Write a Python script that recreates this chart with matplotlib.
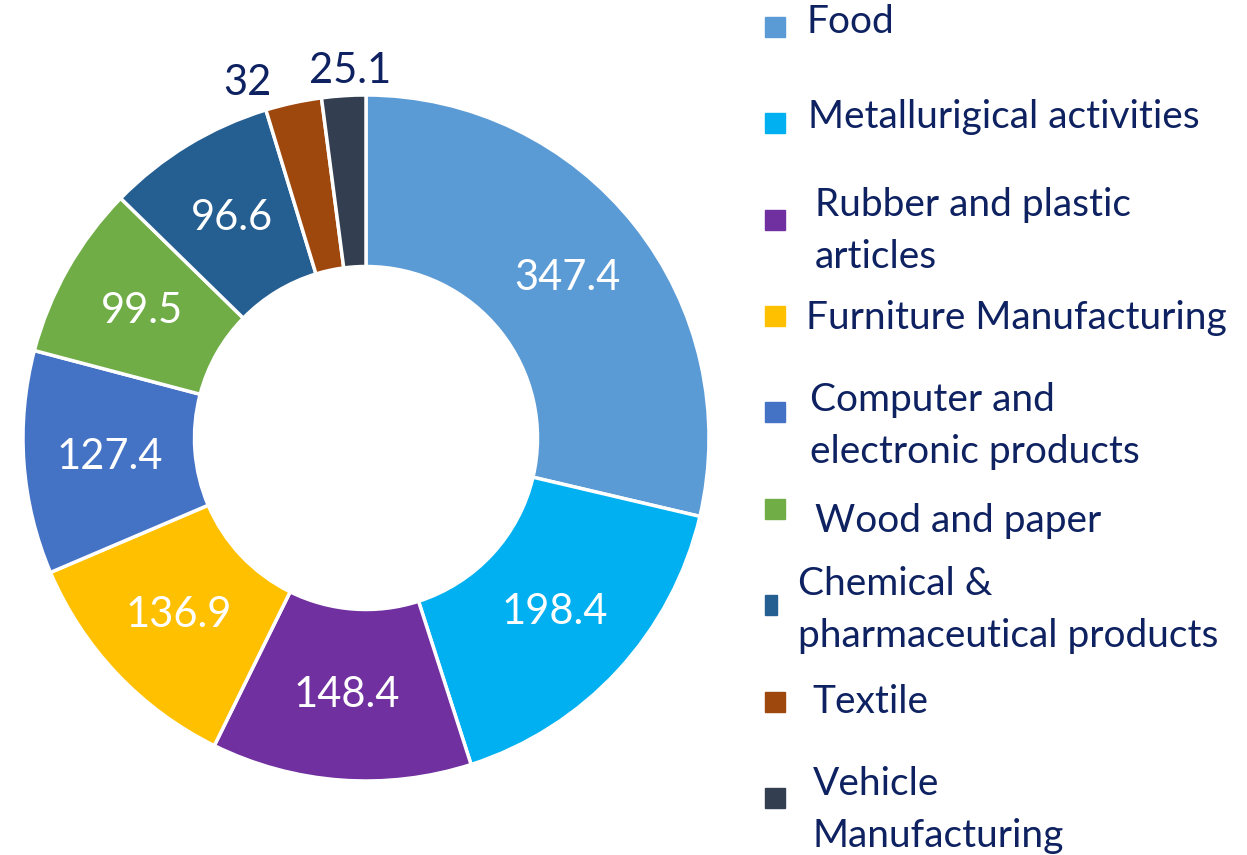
import numpy as np
import matplotlib
matplotlib.use("Agg")
import matplotlib.pyplot as plt

categories = ["Food", "Metallurigical activities", "Rubber and plastic\narticles",
              "Furniture Manufacturing", "Computer and\nelectronic products",
              "Wood and paper", "Chemical &\npharmaceutical products", "Textile",
              "Vehicle\nManufacturing"]
values = [347.4, 198.4, 148.4, 136.9, 127.4, 99.5, 96.6, 32, 25.1]
value_labels = ["347.4", "198.4", "148.4", "136.9", "127.4", "99.5", "96.6", "32", "25.1"]
colors = ["#5B9BD5", "#00B0F0", "#7030A0", "#FFC000", "#4472C4", "#70AD47",
          "#255E91", "#9E480E", "#333F50"]

TXT = "#0E2161"
FONT = "Lato"
plt.rcParams['font.family'] = [FONT, 'DejaVu Sans']

W, H = 1247, 855
fig = plt.figure(figsize=(W / 100, H / 100), dpi=100)
cx, cy, R = 366, 438, 343
ax = fig.add_axes([(cx - R) / W, (H - cy - R) / H, 2 * R / W, 2 * R / H])
wedges, _ = ax.pie(values, colors=colors, startangle=90, counterclock=False,
                   radius=1, wedgeprops=dict(width=0.5, edgecolor="white", linewidth=2.5))
ax.set_xlim(-1, 1)
ax.set_ylim(-1, 1)
ax.axis("off")

fs_num = 30
fs_leg = 28
total = sum(values)
cum = np.cumsum([0] + values[:-1])
for i, (v, lab) in enumerate(zip(values, value_labels)):
    mid = np.deg2rad(90 - (cum[i] + v / 2) / total * 360)
    if v / total > 0.05:
        r = 0.75
        ax.text(r * np.cos(mid), r * np.sin(mid), lab, ha="center", va="center",
                color="white", fontsize=fs_num)
    else:
        # outside labels, nudged as in the reference
        extra = {7: (6.3, 1.09), 8: (-1.2, 1.07)}[i]
        a = mid + np.deg2rad(extra[0])
        ax.text(extra[1] * np.cos(a), extra[1] * np.sin(a), lab, ha="center",
                va="center", color=TXT, fontsize=fs_num)

# legend (manual layout, as in the reference)
mark_y = [27, 123, 220, 316, 412, 509, 605, 702, 798]
mark_w = [20, 20, 20, 20, 20, 20, 12, 20, 20]
text_x = [806, 808, 815, 806, 810, 815, 798, 812, 813]
text_y = [22, 117, 231, 318, 426, 521, 610, 702, 810]
for i, cat in enumerate(categories):
    y = mark_y[i]
    w = mark_w[i]
    fig.patches.append(plt.Rectangle(((765) / W, (H - y - 10) / H), w / W, 20 / H,
                                     transform=fig.transFigure, color=colors[i]))
    fig.text(text_x[i] / W, (H - text_y[i]) / H, cat, ha="left", va="center",
             color=TXT, fontsize=fs_leg, linespacing=1.55)

fig.savefig("out.png", dpi=100)
